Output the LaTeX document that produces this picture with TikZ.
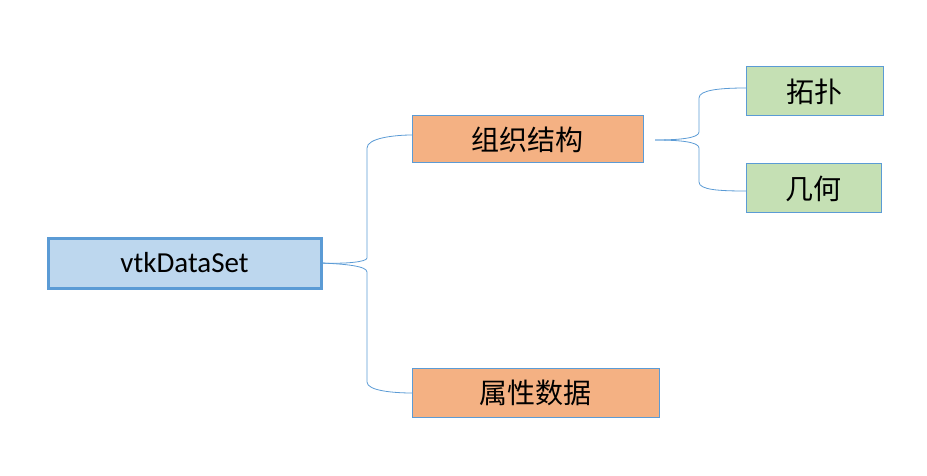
\documentclass[tikz,border=0pt]{standalone}
\usepackage{fontspec}
\setmainfont{Carlito}
\newfontfamily\cjk{Noto Sans CJK SC}
\definecolor{blueline}{HTML}{5B9BD5}
\definecolor{bluefill}{HTML}{BDD7EE}
\definecolor{orangefill}{HTML}{F4B183}
\definecolor{greenfill}{HTML}{C5E0B4}
\begin{document}
\begin{tikzpicture}[x=1pt,y=-1pt,
  box/.style={draw=blueline,line width=1pt,anchor=north west,inner sep=0pt,outer sep=0pt},
  cjkfont/.style={font=\cjk\fontsize{28}{32}\selectfont},
  brace/.style={draw=blueline,line width=0.8pt}]
\useasboundingbox (0,0) rectangle (927,476);
\node[box,line width=3pt,fill=bluefill,minimum width=273pt,minimum height=50pt,font=\fontsize{29}{34}\selectfont] (root) at (48,238) {vtkDataSet};
\node[box,fill=orangefill,minimum width=231pt,minimum height=47pt,cjkfont] (org) at (412,116) {组织结构};
\node[box,fill=orangefill,minimum width=247pt,minimum height=49pt,cjkfont] (attr) at (412,368) {属性数据};
\node[box,fill=greenfill,minimum width=137pt,minimum height=49pt,cjkfont] (topo) at (746,67) {拓扑};
\node[box,fill=greenfill,minimum width=135pt,minimum height=49pt,cjkfont] (geo) at (746,164) {几何};
% brace 1
\coordinate (b1s) at (root.east);
\draw[brace] (b1s) .. controls (345,264) and (367,262) .. (367,258)
  -- (367,148) .. controls (367,138) and (395,135) .. (org.west |- 0,135);
\draw[brace] (b1s) .. controls (345,264) and (367,266) .. (367,272)
  -- (367,382) .. controls (367,391) and (395,393) .. (attr.west |- 0,393);
% brace 2
\coordinate (b2s) at (655,140);
\draw[brace] (b2s) .. controls (680,140) and (699,138) .. (699,132)
  -- (699,98) .. controls (699,90) and (720,88) .. (topo.west |- 0,88);
\draw[brace] (b2s) .. controls (680,140) and (699,142) .. (699,148)
  -- (699,182) .. controls (699,190) and (720,191) .. (geo.west |- 0,191);
\end{tikzpicture}
\end{document}
